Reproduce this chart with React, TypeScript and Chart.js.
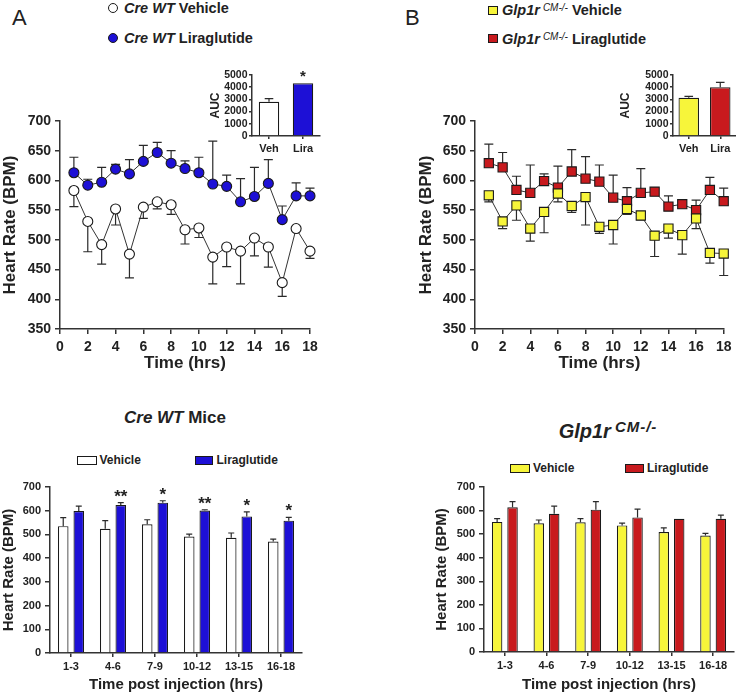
import React, { useEffect, useRef } from "react";
import { Chart, registerables } from "chart.js";

Chart.register(...registerables);

const FONT = "'Liberation Sans', Arial, Helvetica, sans-serif";
Chart.defaults.font.family = FONT;

const INK = "#222222";
const AXIS = "#333333";
const BLUE = "#1d10d6";
const YELLOW = "#f7f53a";
const RED = "#c81a1e";
const WHITE = "#ffffff";

// ---------- Time course (panels A / B, top) ----------
const hours = [1, 2, 3, 4, 5, 6, 7, 8, 9, 10, 11, 12, 13, 14, 15, 16, 17, 18];
const timeTicks = [0, 2, 4, 6, 8, 10, 12, 14, 16, 18];
const hrTicks = [350, 400, 450, 500, 550, 600, 650, 700];

const wtVehicle = [583, 531, 492, 552, 476, 555, 564, 559, 517, 520, 471, 488, 481, 503, 488, 428, 519, 481];
const wtVehicleSem = [27, 51, 33, 27, 40, 19, 12, 16, 24, 16, 45, 33, 55, 30, 34, 23, 0, 12];
const wtLira = [613, 592, 597, 619, 611, 632, 647, 629, 620, 613, 594, 590, 564, 573, 595, 534, 574, 574];
const wtLiraSem = [26, 10, 25, 8, 24, 27, 17, 21, 13, 26, 72, 19, 39, 49, 40, 23, 22, 13];

const koVehicle = [575, 531, 558, 519, 547, 578, 557, 572, 522, 525, 552, 541, 507, 519, 508, 536, 478, 477];
const koVehicleSem = [11, 12, 25, 21, 35, 14, 11, 47, 11, 32, 9, 7, 35, 16, 32, 17, 17, 37];
const koLira = [629, 622, 584, 579, 599, 588, 615, 603, 598, 571, 565, 579, 581, 556, 560, 550, 584, 565];
const koLiraSem = [32, 25, 23, 47, 12, 36, 37, 37, 28, 38, 23, 41, 0, 18, 7, 17, 21, 22];

// ---------- AUC insets ----------
const aucGroups = ["Veh", "Lira"];
const aucTicks = [0, 1000, 2000, 3000, 4000, 5000];
const wtAuc = [2800, 4320];
const wtAucSem = [260, 0];
const wtAucStars = ["", "*"];
const koAuc = [3140, 3990];
const koAucSem = [110, 410];

// ---------- Binned bars (bottom) ----------
const binLabels = ["1-3", "4-6", "7-9", "10-12", "13-15", "16-18"];
const barTicks = [0, 100, 200, 300, 400, 500, 600, 700];
const wtBinVehicle = [535, 524, 543, 491, 486, 470];
const wtBinVehicleSem = [36, 34, 19, 10, 20, 10];
const wtBinLira = [599, 624, 634, 601, 576, 558];
const wtBinLiraSem = [20, 10, 8, 3, 19, 14];
const wtBinStars = ["", "**", "*", "**", "*", "*"];
const koBinVehicle = [552, 546, 550, 537, 509, 494];
const koBinVehicleSem = [14, 14, 16, 10, 18, 9];
const koBinLira = [614, 586, 604, 571, 565, 565];
const koBinLiraSem = [24, 33, 34, 35, 0, 16];

// ---------- plugin: error bars + significance stars ----------
const errorBarPlugin = {
  id: "errorBars",
  beforeDatasetsDraw(chart: any) {
    const ctx = chart.ctx;
    chart.data.datasets.forEach((ds: any, di: number) => {
      if (!ds.errUp && !ds.errDown) return;
      const meta = chart.getDatasetMeta(di);
      const ys = chart.scales[meta.yAxisID];
      const half = ds.capHalf ?? 4;
      ctx.save();
      ctx.strokeStyle = "#2a2a2a";
      ctx.lineWidth = ds.errWidth ?? 1.2;
      meta.data.forEach((el: any, i: number) => {
        const d = ds.data[i];
        const v = typeof d === "number" ? d : d.y;
        const y0 = ys.getPixelForValue(v);
        const seg = (e: number | undefined, sign: number) => {
          if (!e) return;
          const y1 = ys.getPixelForValue(v + sign * e);
          ctx.beginPath();
          ctx.moveTo(el.x, y0);
          ctx.lineTo(el.x, y1);
          ctx.moveTo(el.x - half, y1);
          ctx.lineTo(el.x + half, y1);
          ctx.stroke();
        };
        seg(ds.errUp ? ds.errUp[i] : 0, 1);
        seg(ds.errDown ? ds.errDown[i] : 0, -1);
      });
      ctx.restore();
    });
  },
  afterDatasetsDraw(chart: any) {
    const ctx = chart.ctx;
    chart.data.datasets.forEach((ds: any, di: number) => {
      if (!ds.stars) return;
      const meta = chart.getDatasetMeta(di);
      const ys = chart.scales[meta.yAxisID];
      ctx.save();
      ctx.fillStyle = INK;
      ctx.font = `bold ${ds.starSize ?? 16}px ${FONT}`;
      ctx.textAlign = "center";
      ctx.textBaseline = "alphabetic";
      meta.data.forEach((el: any, i: number) => {
        const s = ds.stars[i];
        if (!s) return;
        const d = ds.data[i];
        const v = typeof d === "number" ? d : d.y;
        const top = ys.getPixelForValue(v + (ds.errUp ? ds.errUp[i] || 0 : 0));
        ctx.fillText(s, el.x, top - (ds.starGap ?? 1));
      });
      ctx.restore();
    });
  },
};

// ---------- axis helpers ----------
const plainNumber = (v: any) => String(v);

function vAxis(o: {
  min: number; max: number; ticks: number[]; size: number; tickPad: number; tickLen: number;
  width: number; title: string; titleSize: number; titlePad: number;
}) {
  return {
    type: "linear",
    position: "left",
    min: o.min,
    max: o.max,
    afterBuildTicks: (s: any) => { s.ticks = o.ticks.map((v) => ({ value: v })); },
    afterFit: (s: any) => { s.width = o.width; },
    ticks: { autoSkip: false, color: INK, padding: o.tickPad, callback: plainNumber, font: { family: FONT, size: o.size, weight: "bold" } },
    grid: { drawOnChartArea: false, drawTicks: true, tickLength: o.tickLen, color: AXIS, lineWidth: 1.5 },
    border: { display: true, color: AXIS, width: 1.5 },
    title: {
      display: !!o.title, text: o.title, color: INK,
      font: { family: FONT, size: o.titleSize, weight: "bold" },
      padding: { top: o.titlePad, bottom: 0 },
    },
  };
}

function hAxisLinear(o: { min: number; max: number; ticks: number[]; size: number; tickPad: number; tickLen: number; height: number; title: string; titleSize: number; titlePad: number }) {
  return {
    type: "linear",
    position: "bottom",
    min: o.min,
    max: o.max,
    afterBuildTicks: (s: any) => { s.ticks = o.ticks.map((v) => ({ value: v })); },
    afterFit: (s: any) => { s.height = o.height; },
    ticks: { autoSkip: false, maxRotation: 0, color: INK, padding: o.tickPad, callback: plainNumber, font: { family: FONT, size: o.size, weight: "bold" } },
    grid: { drawOnChartArea: false, drawTicks: true, tickLength: o.tickLen, color: AXIS, lineWidth: 1.5 },
    border: { display: true, color: AXIS, width: 1.5 },
    title: {
      display: !!o.title, text: o.title, color: INK,
      font: { family: FONT, size: o.titleSize, weight: "bold" },
      padding: { top: 0, bottom: o.titlePad },
    },
  };
}

function hAxisCategory(o: { size: number; tickPad: number; tickLen: number; height: number; title: string; titleSize: number; titlePad: number }) {
  return {
    type: "category",
    position: "bottom",
    offset: true,
    afterFit: (s: any) => { s.height = o.height; },
    ticks: { autoSkip: false, maxRotation: 0, color: INK, padding: o.tickPad, font: { family: FONT, size: o.size, weight: "bold" } },
    grid: { offset: false, drawOnChartArea: false, drawTicks: true, tickLength: o.tickLen, color: AXIS, lineWidth: 1.5 },
    border: { display: true, color: AXIS, width: 1.5 },
    title: {
      display: !!o.title, text: o.title, color: INK,
      font: { family: FONT, size: o.titleSize, weight: "bold" },
      padding: { top: 0, bottom: o.titlePad },
    },
  };
}

const baseOptions = {
  responsive: false,
  animation: false,
  events: [],
  plugins: { legend: { display: false }, tooltip: { enabled: false } },
};

// ---------- chart configs ----------
function timeCourseConfig(o: {
  veh: number[]; vehSem: number[]; lira: number[]; liraSem: number[];
  vehColor: string; liraColor: string; pointStyle: string; radius: number;
  yWidth: number; yTitlePad: number; padRight: number;
}) {
  return {
    type: "line",
    data: {
      datasets: [
        {
          label: "Vehicle",
          data: hours.map((h, i) => ({ x: h, y: o.veh[i] })),
          borderColor: AXIS, borderWidth: 1, tension: 0, fill: false, clip: false,
          pointStyle: o.pointStyle, pointRadius: o.radius,
          pointBackgroundColor: o.vehColor, pointBorderColor: "#1a1a1a", pointBorderWidth: 1.1,
          errDown: o.vehSem, capHalf: 4.5,
        },
        {
          label: "Liraglutide",
          data: hours.map((h, i) => ({ x: h, y: o.lira[i] })),
          borderColor: AXIS, borderWidth: 1, tension: 0, fill: false, clip: false,
          pointStyle: o.pointStyle, pointRadius: o.radius,
          pointBackgroundColor: o.liraColor, pointBorderColor: "#1a1a1a", pointBorderWidth: 1.1,
          errUp: o.liraSem, capHalf: 4.5,
        },
      ],
    },
    options: {
      ...baseOptions,
      clip: false,
      layout: { padding: { top: 21, right: o.padRight, left: 0, bottom: 0 } },
      scales: {
        x: hAxisLinear({ min: 0, max: 18, ticks: timeTicks, size: 14, tickPad: 4.5, tickLen: 5, height: 46, title: "Time (hrs)", titleSize: 17, titlePad: 1.3 }),
        y: vAxis({ min: 350, max: 700, ticks: hrTicks, size: 14, tickPad: 4, tickLen: 5, width: o.yWidth, title: "Heart Rate (BPM)", titleSize: 17, titlePad: o.yTitlePad }),
      },
    },
    plugins: [errorBarPlugin],
  };
}

function aucConfig(o: { values: number[]; sem: number[]; stars?: string[]; colors: string[]; yWidth: number; padRight: number; barPct: number }) {
  return {
    type: "bar",
    data: {
      labels: aucGroups,
      datasets: [
        {
          label: "AUC",
          data: o.values,
          backgroundColor: o.colors,
          borderColor: "#1a1a1a",
          borderWidth: 1.2,
          barPercentage: o.barPct,
          categoryPercentage: 1,
          errUp: o.sem, capHalf: 4.3,
          stars: o.stars, starSize: 15, starGap: 2,
        },
      ],
    },
    options: {
      ...baseOptions,
      layout: { padding: { top: 15, right: o.padRight, left: 0, bottom: 0 } },
      scales: {
        x: hAxisCategory({ size: 11, tickPad: 3.7, tickLen: 3, height: 24, title: "", titleSize: 11, titlePad: 0 }),
        y: vAxis({ min: 0, max: 5000, ticks: aucTicks, size: 10.5, tickPad: 1.5, tickLen: 3, width: o.yWidth, title: "AUC", titleSize: 12, titlePad: 13.8 }),
      },
    },
    plugins: [errorBarPlugin],
  };
}

function binConfig(o: {
  veh: number[]; vehSem: number[]; lira: number[]; liraSem: number[]; stars?: string[];
  vehColor: string; liraColor: string; yWidth: number; yTitlePad: number; padRight: number; xHeight: number;
}) {
  return {
    type: "bar",
    data: {
      labels: binLabels,
      datasets: [
        {
          label: "Vehicle", data: o.veh, backgroundColor: o.vehColor, borderColor: "#1a1a1a", borderWidth: 1.2,
          barPercentage: 0.68, categoryPercentage: 0.74, errUp: o.vehSem, capHalf: 3,
        },
        {
          label: "Liraglutide", data: o.lira, backgroundColor: o.liraColor, borderColor: "#1a1a1a", borderWidth: 1.2,
          barPercentage: 0.68, categoryPercentage: 0.74, errUp: o.liraSem, capHalf: 3,
          stars: o.stars, starSize: 17, starGap: 1,
        },
      ],
    },
    options: {
      ...baseOptions,
      layout: { padding: { top: 47, right: o.padRight, left: 0, bottom: 0 } },
      scales: {
        x: hAxisCategory({ size: 11, tickPad: 3.4, tickLen: 4, height: o.xHeight, title: "Time post injection (hrs)", titleSize: 15, titlePad: 3 }),
        y: vAxis({ min: 0, max: 700, ticks: barTicks, size: 11, tickPad: 4, tickLen: 5, width: o.yWidth, title: "Heart Rate (BPM)", titleSize: 15, titlePad: o.yTitlePad }),
      },
    },
    plugins: [errorBarPlugin],
  };
}

// ---------- components ----------
function ChartCanvas({ x, y, w, h, make }: { x: number; y: number; w: number; h: number; make: () => any }) {
  const ref = useRef<HTMLCanvasElement>(null);
  useEffect(() => {
    const chart = new Chart(ref.current as HTMLCanvasElement, make());
    return () => chart.destroy();
  }, []);
  return (
    <canvas
      ref={ref}
      width={w}
      height={h}
      style={{ position: "absolute", left: x, top: y, width: w, height: h }}
    />
  );
}

function Label({ x, cy, size, lh, children, style }: { x: number; cy: number; size: number; lh?: number; children: any; style?: any }) {
  const L = lh ?? Math.round(size * 1.1);
  return (
    <div
      style={{
        position: "absolute", left: x, top: cy - L / 2, lineHeight: `${L}px`, fontSize: size,
        fontWeight: "bold", whiteSpace: "nowrap", color: INK, ...style,
      }}
    >
      {children}
    </div>
  );
}

function Box({ x, y, w, h, color, round }: { x: number; y: number; w: number; h: number; color: string; round?: boolean }) {
  return (
    <div
      style={{
        position: "absolute", left: x, top: y, width: w, height: h, background: color,
        border: "1.2px solid #1a1a1a", boxSizing: "border-box", borderRadius: round ? "50%" : 0,
      }}
    />
  );
}

const supStyle = { fontSize: 10, fontStyle: "italic", fontWeight: "normal", position: "relative", top: -4, marginLeft: 3 } as any;

export default function App() {
  useEffect(() => {
    document.body.style.margin = "0";
  }, []);
  return (
    <div style={{ position: "absolute", left: 0, top: 0, width: 736, height: 697, overflow: "hidden", background: "#fff", fontFamily: FONT, color: INK }}>
      {/* Panel letters */}
      <Label x={12} cy={18} size={22} style={{ fontWeight: "normal" }}>A</Label>
      <Label x={405} cy={18} size={22} style={{ fontWeight: "normal" }}>B</Label>

      {/* Panel A legend */}
      <Box x={108} y={3} w={10} h={10} color={WHITE} round />
      <Label x={124} cy={8} size={14.5}><i>Cre WT</i> Vehicle</Label>
      <Box x={108} y={33} w={10} h={10} color={BLUE} round />
      <Label x={124} cy={38} size={14.5}><i>Cre WT</i> Liraglutide</Label>

      {/* Panel B legend */}
      <Box x={488} y={5.5} w={10} h={9} color={YELLOW} />
      <Label x={502} cy={10} size={14.5}><i>Glp1r</i><span style={supStyle}>CM-/-</span> Vehicle</Label>
      <Box x={488} y={33.5} w={10} h={9} color={RED} />
      <Label x={502} cy={38.5} size={14.5}><i>Glp1r</i><span style={supStyle}>CM-/-</span> Liraglutide</Label>

      {/* Top time-course charts */}
      <ChartCanvas x={0} y={100} w={330} h={275} make={() => timeCourseConfig({
        veh: wtVehicle, vehSem: wtVehicleSem, lira: wtLira, liraSem: wtLiraSem,
        vehColor: WHITE, liraColor: BLUE, pointStyle: "circle", radius: 5,
        yWidth: 60, yTitlePad: 0, padRight: 20,
      })} />
      <ChartCanvas x={370} y={100} w={366} h={275} make={() => timeCourseConfig({
        veh: koVehicle, vehSem: koVehicleSem, lira: koLira, liraSem: koLiraSem,
        vehColor: YELLOW, liraColor: RED, pointStyle: "rect", radius: 6.5,
        yWidth: 105, yTitlePad: 46.5, padRight: 12,
      })} />

      {/* AUC insets */}
      <ChartCanvas x={195} y={60} w={130} h={100} make={() => aucConfig({
        values: wtAuc, sem: wtAucSem, stars: wtAucStars, colors: [WHITE, BLUE], yWidth: 57, padRight: 5, barPct: 0.6,
      })} />
      <ChartCanvas x={605} y={60} w={131} h={100} make={() => aucConfig({
        values: koAuc, sem: koAucSem, colors: [YELLOW, RED], yWidth: 68, padRight: 0, barPct: 0.65,
      })} />

      {/* Bottom titles */}
      <div style={{ position: "absolute", left: 75, width: 200, top: 418 - 10, lineHeight: "20px", fontSize: 17, fontWeight: "bold", textAlign: "center", whiteSpace: "nowrap" }}>
        <i>Cre WT</i> Mice
      </div>
      <div style={{ position: "absolute", left: 508, width: 200, top: 431 - 12, lineHeight: "24px", fontSize: 20, fontWeight: "bold", textAlign: "center", whiteSpace: "nowrap" }}>
        <i>Glp1r</i>
        <span style={{ fontSize: 15, fontStyle: "italic", position: "relative", top: -6, marginLeft: 4, letterSpacing: 1 }}>CM-/-</span>
      </div>

      {/* Bottom legends */}
      <Box x={77} y={456} w={20} h={9} color={WHITE} />
      <Label x={99.5} cy={460.5} size={12}>Vehicle</Label>
      <Box x={195} y={456} w={18} h={9} color={BLUE} />
      <Label x={216.5} cy={460.5} size={12}>Liraglutide</Label>

      <Box x={510} y={464} w={20} h={9} color={YELLOW} />
      <Label x={533} cy={468.5} size={12}>Vehicle</Label>
      <Box x={625} y={464} w={19} h={9} color={RED} />
      <Label x={647} cy={468.5} size={12}>Liraglutide</Label>

      {/* Bottom bar charts */}
      <ChartCanvas x={0} y={440} w={310} h={257} make={() => binConfig({
        veh: wtBinVehicle, vehSem: wtBinVehicleSem, lira: wtBinLira, liraSem: wtBinLiraSem, stars: wtBinStars,
        vehColor: WHITE, liraColor: BLUE, yWidth: 50, yTitlePad: 0, padRight: 8, xHeight: 44,
      })} />
      <ChartCanvas x={370} y={440} w={366} h={257} make={() => binConfig({
        veh: koBinVehicle, vehSem: koBinVehicleSem, lira: koBinLira, liraSem: koBinLiraSem,
        vehColor: YELLOW, liraColor: RED, yWidth: 114, yTitlePad: 62.5, padRight: 2, xHeight: 45,
      })} />
    </div>
  );
}
